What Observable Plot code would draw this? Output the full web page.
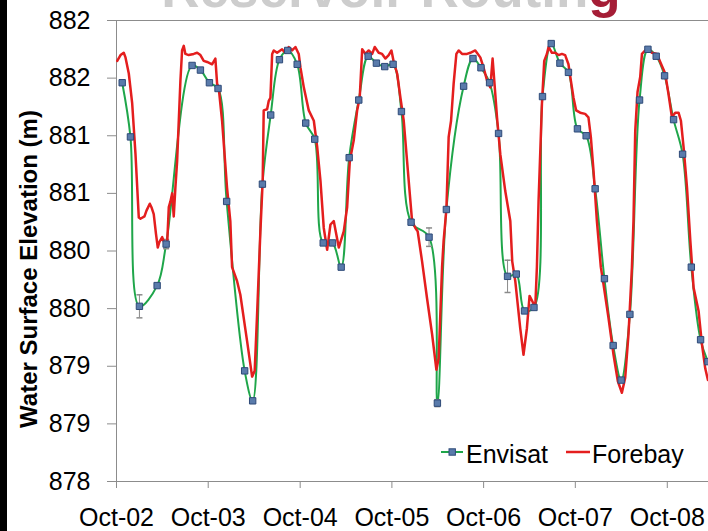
<!DOCTYPE html>
<html>
<head>
<meta charset="utf-8">
<script src="https://cdn.jsdelivr.net/npm/d3@7"></script>
<script src="https://cdn.jsdelivr.net/npm/@observablehq/plot@0.6"></script>
<style>
  html, body { margin: 0; padding: 0; background: #fff; }
  #chart { position: relative; width: 708px; height: 531px; overflow: hidden; background: #fff;
           font-family: "Liberation Sans", Arial, sans-serif; }
  #chart .edge { position: absolute; left: 0; top: 0; width: 7px; height: 531px; background: #000; }
  #chart .title { position: absolute; left: 0; top: 0; }
  #chart .ytitle { position: absolute; left: 29px; top: 269px; transform: translate(-50%, -50%) rotate(-90deg);
                   white-space: nowrap; font-weight: bold; font-size: 24px; color: #000; }
  #chart .legend { position: absolute; left: 0; top: 0; }
  #chart svg g[aria-label="y-axis tick"], #chart svg g[aria-label="x-axis tick"] { stroke: #8c8c8c; }
</style>
</head>
<body>
<div id="chart">
  <div class="edge"></div>
  <div class="ytitle">Water Surface Elevation (m)</div>
</div>
<script>
// Envisat altimetry: observation time (decimal year), elevation (m), error half-width (m)
const envisatYear = [2002.810,2002.900,2002.998,2003.191,2003.289,2003.572,2003.663,2003.761,2003.855,2003.949,
  2004.145,2004.232,2004.338,2004.428,2004.523,2004.613,2004.716,2004.809,2004.907,2004.999,
  2005.100,2005.195,2005.282,2005.387,2005.489,2005.579,2005.670,2005.761,2005.852,2005.957,
  2006.153,2006.244,2006.342,2006.530,2006.632,2006.719,2006.813,2006.911,2007.009,2007.104,
  2007.194,2007.297,2007.390,2007.485,2007.580,2007.673,2007.771,2007.866,2007.964,2008.065,
  2008.160,2008.247,2008.342,2008.447,2008.538,2008.628,2008.719,2008.817,2008.915,2009.010,
  2009.111,2009.191];
const envisatElev = [881.46,880.99,879.52,879.70,880.06,881.61,881.57,881.46,881.41,880.43,
  878.96,878.70,880.58,881.18,881.66,881.74,881.62,881.11,880.97,880.07,
  880.07,879.86,880.81,881.31,881.69,881.63,881.60,881.62,881.21,880.25,
  880.12,878.68,880.36,881.43,881.67,881.59,881.46,881.02,879.78,879.80,
  879.48,879.51,881.34,881.80,881.63,881.55,881.06,881.00,880.54,879.76,
  879.18,878.88,879.45,881.31,881.75,881.69,881.52,881.14,880.84,879.86,
  879.23,879.04];
const envisatErr = [0,0,0.10,0,0.04,0,0,0,0,0,
  0,0,0,0,0,0,0,0,0,0,
  0,0,0,0,0,0,0,0,0,0,
  0.08,0.03,0,0,0,0,0,0,0.14,0,
  0,0,0,0,0,0,0,0,0,0,
  0,0,0,0,0,0,0,0,0,0,
  0,0];

// Forebay gauge record: time (decimal year), elevation (m)
const forebayYear = [2002.756,2002.792,2002.827,2002.846,2002.882,2002.919,2002.955,2002.991,2003.009,2003.053,
  2003.075,2003.111,2003.129,2003.154,2003.178,2003.198,2003.216,2003.246,2003.271,2003.300,
  2003.318,2003.336,2003.355,2003.372,2003.390,2003.409,2003.445,2003.463,2003.481,2003.499,
  2003.535,2003.590,2003.627,2003.663,2003.699,2003.736,2003.790,2003.826,2003.845,2003.862,
  2003.899,2003.953,2003.989,2004.008,2004.062,2004.098,2004.171,2004.226,2004.254,2004.280,
  2004.316,2004.341,2004.352,2004.389,2004.406,2004.425,2004.444,2004.461,2004.498,2004.552,
  2004.588,2004.624,2004.661,2004.697,2004.733,2004.752,2004.788,2004.842,2004.897,2004.934,
  2004.969,2005.005,2005.042,2005.078,2005.114,2005.169,2005.223,2005.260,2005.289,2005.332,
  2005.369,2005.397,2005.424,2005.460,2005.495,2005.533,2005.561,2005.604,2005.641,2005.677,
  2005.713,2005.743,2005.768,2005.805,2005.841,2005.877,2005.931,2005.968,2006.004,2006.029,
  2006.077,2006.131,2006.186,2006.233,2006.258,2006.295,2006.312,2006.342,2006.367,2006.393,
  2006.421,2006.451,2006.476,2006.513,2006.567,2006.603,2006.657,2006.712,2006.748,2006.785,
  2006.821,2006.846,2006.864,2006.894,2006.930,2006.984,2007.039,2007.060,2007.093,2007.147,
  2007.183,2007.220,2007.249,2007.275,2007.311,2007.329,2007.347,2007.384,2007.409,2007.438,
  2007.456,2007.493,2007.529,2007.565,2007.602,2007.637,2007.673,2007.699,2007.728,2007.757,
  2007.801,2007.855,2007.891,2007.917,2007.946,2007.983,2008.026,2008.055,2008.109,2008.164,
  2008.211,2008.255,2008.291,2008.327,2008.364,2008.381,2008.400,2008.425,2008.454,2008.473,
  2008.509,2008.545,2008.582,2008.636,2008.672,2008.726,2008.762,2008.799,2008.835,2008.871,
  2008.897,2008.926,2008.963,2008.999,2009.035,2009.089,2009.126,2009.162,2009.191];
const forebayElev = [881.65,881.70,881.72,881.68,881.54,881.28,880.84,880.29,880.28,880.30,
  880.35,880.41,880.38,880.32,880.15,880.03,880.08,880.12,880.07,880.06,
  880.38,880.43,880.50,880.30,880.55,880.78,881.48,881.74,881.78,881.71,
  881.70,881.71,881.72,881.70,881.65,881.64,881.62,881.67,881.45,881.42,
  881.13,880.55,880.26,879.86,879.74,879.62,879.22,878.91,878.96,879.45,
  880.17,880.61,881.22,881.23,881.30,881.33,881.71,881.74,881.72,881.75,
  881.72,881.77,881.74,881.77,881.71,881.59,881.42,881.22,881.13,880.90,
  880.61,880.20,880.01,880.23,880.26,880.03,880.17,880.38,880.78,880.96,
  881.22,881.33,881.75,881.71,881.74,881.71,881.77,881.72,881.71,881.67,
  881.70,881.74,881.64,881.54,881.33,881.13,880.61,880.26,880.20,880.17,
  879.91,879.59,879.28,878.97,879.07,879.86,880.09,880.36,880.99,881.13,
  881.45,881.71,881.74,881.71,881.71,881.72,881.74,881.68,881.59,881.48,
  881.42,881.67,881.48,881.16,880.84,880.52,880.26,879.91,879.74,879.33,
  879.10,879.33,879.61,879.57,879.51,879.86,880.43,881.28,881.65,881.71,
  881.77,881.72,881.72,881.70,881.71,881.70,881.62,881.48,881.33,881.22,
  881.20,881.19,881.16,880.99,880.70,880.26,879.86,879.71,879.42,879.10,
  878.87,878.77,878.90,879.28,879.86,880.26,881.04,881.38,881.51,881.71,
  881.74,881.75,881.72,881.71,881.64,881.54,881.36,881.16,881.20,881.20,
  881.13,880.90,880.55,880.09,879.68,879.48,879.19,878.98,878.88];

// Axis ticks
const xTickYears = [2002, 2003, 2004, 2005, 2006, 2007, 2008];   // October of each year
const yTicks = [878, 878.5, 879, 879.5, 880, 880.5, 881, 881.5, 882];

const seriesNames = ["Envisat", "Forebay"];
const seriesColors = ["#1fa64a", "#e41e1e"];

// decimal year -> Date
function toDate(t) {
  const y = Math.floor(t);
  const a = Date.UTC(y, 0, 1), b = Date.UTC(y + 1, 0, 1);
  return new Date(a + (t - y) * (b - a));
}

const envisat = envisatYear.map((t, i) => ({date: toDate(t), elev: envisatElev[i], err: envisatErr[i]}));
const errors = envisat.filter(d => d.err > 0);
const forebay = forebayYear.map((t, i) => ({date: toDate(t), elev: forebayElev[i]}));
const xStart = new Date(Date.UTC(2002, 9, 1));
const xEnd = new Date(Date.UTC(2009, 2, 14));

// a short horizontal cap for the error bars
const capSymbol = {draw(ctx, size) { const w = Math.sqrt(size) / 2; ctx.moveTo(-w, 0); ctx.lineTo(w, 0); }};

const plot = Plot.plot({
  width: 708,
  height: 531,
  marginLeft: 116,
  marginRight: 0,
  marginTop: 20,
  marginBottom: 50,
  style: {fontFamily: "'Liberation Sans', Arial, sans-serif", fontSize: "25px", color: "#000", background: "transparent"},
  x: {type: "utc", domain: [xStart, xEnd], ticks: xTickYears.map(y => new Date(Date.UTC(y, 9, 1))),
      tickFormat: d3.utcFormat("%b-%y"), tickSize: 7, tickPadding: 20, label: null},
  y: {domain: [878, 882], ticks: yTicks, tickFormat: d => String(Math.round(d)),
      tickSize: 9, tickPadding: 17, label: null},
  marks: [
    Plot.ruleY([882], {stroke: "#8c8c8c"}),
    Plot.ruleY([878], {stroke: "#8c8c8c"}),
    Plot.ruleX([xStart], {stroke: "#8c8c8c"}),
    Plot.line(envisat, {x: "date", y: "elev", stroke: seriesColors[0], strokeWidth: 2, curve: "catmull-rom", clip: true}),
    Plot.ruleX(errors, {x: "date", y1: d => d.elev - d.err, y2: d => d.elev + d.err, stroke: "#8a8a8a", strokeWidth: 1}),
    Plot.dot(errors, {x: "date", y: d => d.elev - d.err, symbol: capSymbol, r: 3.4, fill: "none", stroke: "#8a8a8a"}),
    Plot.dot(errors, {x: "date", y: d => d.elev + d.err, symbol: capSymbol, r: 3.4, fill: "none", stroke: "#8a8a8a"}),
    Plot.line(forebay, {x: "date", y: "elev", stroke: seriesColors[1], strokeWidth: 2.5, clip: true}),
    Plot.dot(envisat, {x: "date", y: "elev", symbol: "square", r: 3.6, fill: "#5a7bab", stroke: "#2e4a78", strokeWidth: 1})
  ]
});
plot.style.position = "absolute";
plot.style.left = "0px";
plot.style.top = "0px";
const chart = document.getElementById("chart");
chart.insertBefore(plot, chart.querySelector(".ytitle"));

// Title (its upper part sits outside the frame)
const title = d3.create("svg").attr("class", "title").attr("width", 708).attr("height", 30);
const tt = title.append("text").attr("x", 391).attr("y", 7).attr("text-anchor", "middle")
  .attr("font-family", "'Liberation Sans', Arial, sans-serif").attr("font-weight", "bold").attr("font-size", 53);
tt.append("tspan").attr("fill", "#cdcdcd").text("Reservoir Routin");
tt.append("tspan").attr("fill", "#a51d36").text("g");
chart.appendChild(title.node());

// Legend
const legend = d3.create("svg").attr("class", "legend").attr("width", 708).attr("height", 531)
  .attr("font-family", "'Liberation Sans', Arial, sans-serif").attr("font-size", 25);
const ly = 452;
legend.append("line").attr("x1", 441).attr("x2", 463).attr("y1", ly).attr("y2", ly)
  .attr("stroke", seriesColors[0]).attr("stroke-width", 2);
legend.append("rect").attr("x", 449).attr("y", ly - 3.2).attr("width", 6.4).attr("height", 6.4)
  .attr("fill", "#5a7bab").attr("stroke", "#2e4a78");
legend.append("text").attr("x", 466).attr("y", ly + 10.5).text(seriesNames[0]);
legend.append("line").attr("x1", 566).attr("x2", 590).attr("y1", ly).attr("y2", ly)
  .attr("stroke", seriesColors[1]).attr("stroke-width", 2.5);
legend.append("text").attr("x", 592).attr("y", ly + 10.5).text(seriesNames[1]);
chart.appendChild(legend.node());
</script>
</body>
</html>
